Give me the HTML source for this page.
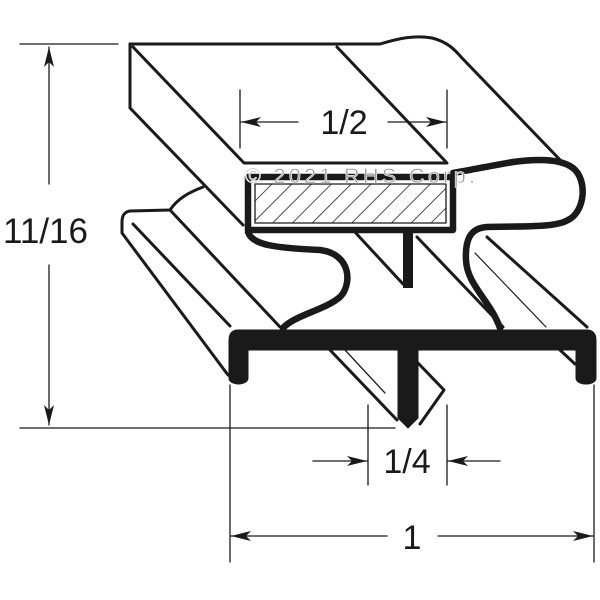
<!DOCTYPE html><html><head><style>body{margin:0;background:#fff}svg{display:block}text{font-family:"Liberation Sans",sans-serif;fill:#1a1a1a}</style></head><body>
<svg width="600" height="600" viewBox="0 0 600 600">
<defs><marker id="a" viewBox="0 0 20 10" refX="20" refY="5" markerWidth="20" markerHeight="10" markerUnits="userSpaceOnUse" orient="auto"><path d="M0,0 L20,5 L0,10 L5,5 Z" fill="#1a1a1a"/></marker>
<pattern id="h" width="14" height="14" patternUnits="userSpaceOnUse" patternTransform="rotate(45)"><line x1="0" y1="0" x2="0" y2="14" stroke="#222" stroke-width="1.6"/></pattern></defs>
<g stroke="#1a1a1a" fill="none" stroke-linejoin="round" stroke-linecap="round">
<g stroke-width="1.3">
<line x1="20" y1="44" x2="118" y2="44"/><line x1="20" y1="428" x2="395" y2="428"/>
<line x1="49" y1="184" x2="49" y2="47" marker-end="url(#a)"/><line x1="49" y1="265" x2="49" y2="425" marker-end="url(#a)"/>
<line x1="240" y1="90" x2="240" y2="148"/><line x1="447" y1="90" x2="447" y2="148"/>
<line x1="298" y1="122" x2="241" y2="122" marker-end="url(#a)"/><line x1="388" y1="122" x2="446" y2="122" marker-end="url(#a)"/>
<line x1="368" y1="405" x2="368" y2="485"/><line x1="447" y1="405" x2="447" y2="485"/>
<line x1="313" y1="461" x2="367" y2="461" marker-end="url(#a)"/><line x1="500" y1="461" x2="448" y2="461" marker-end="url(#a)"/>
<line x1="230" y1="385" x2="230" y2="562"/><line x1="594" y1="385" x2="594" y2="562"/>
<line x1="387" y1="536" x2="231" y2="536" marker-end="url(#a)"/><line x1="438" y1="536" x2="593" y2="536" marker-end="url(#a)"/>
</g>
<g stroke-width="3">
<path d="M130,44 L380,44 C400,38 415,35 432,38 C448,42 455,50 462,58 L565,165"/>
<path d="M130,44 L130,108 L243,225"/>
<path d="M133,47 L244,163 L447,163 L337,47"/>
<path d="M203,187 C190,192 178,198 170,210 L130,211 C124,212 122,216 122,222 L122,233 L228,375"/>
<line x1="133" y1="224" x2="230" y2="326"/><line x1="170" y1="210" x2="280" y2="327"/>
<line x1="353" y1="230" x2="403" y2="284"/><line x1="417" y1="237" x2="503" y2="327"/>
<path d="M487,237 L587,327"/><path d="M475,253 L546,327" stroke-width="1.2"/>
<path d="M560,350 L575,364"/>
<path d="M330,350 L397,420"/><path d="M345,350 L385,393" stroke-width="1.3"/>
<path d="M418,363 L444,390 L420,424"/>
</g>
<g stroke-width="6.5">
<path d="M453,173 C470,170 490,166 513,162 C535,159 560,158 573,168 C588,180 585,212 568,220 C555,228 520,226 487,227 C470,228 465,240 466,260 C467,285 490,300 500,328"/>
<path d="M248,232 C252,245 275,248 320,250 C352,254 352,285 340,297 C325,310 295,315 283,328"/>
<rect x="248" y="177" width="205" height="53" fill="none"/>
<rect x="255" y="184" width="191" height="39" fill="url(#h)" stroke-width="1.3"/>
</g>
<rect x="403" y="230" width="10" height="58" fill="#1a1a1a" stroke="none"/>
<path d="M238,330 L587,330 C593,330 596,334 596,340 L596,378 C596,386 576,386 576,378 L576,350 L248,350 L248,378 C248,386 229,386 229,378 L229,340 C229,334 232,330 238,330 Z" fill="#1a1a1a" stroke-width="1"/>
<path d="M398,348 L418,348 L418,418 L408,428 L398,418 Z" fill="#1a1a1a" stroke-width="1"/>
</g>
<text x="245" y="183" font-size="21.5" textLength="230" style="fill:#999;stroke:#fff;stroke-width:0.6">© 2021 RHS Corp.</text>
<text x="3" y="243" font-size="35">11/16</text>
<text x="344" y="134" font-size="34" text-anchor="middle">1/2</text>
<text x="407" y="473" font-size="34" text-anchor="middle">1/4</text>
<text x="412" y="549" font-size="34" text-anchor="middle">1</text>
</svg></body></html>
